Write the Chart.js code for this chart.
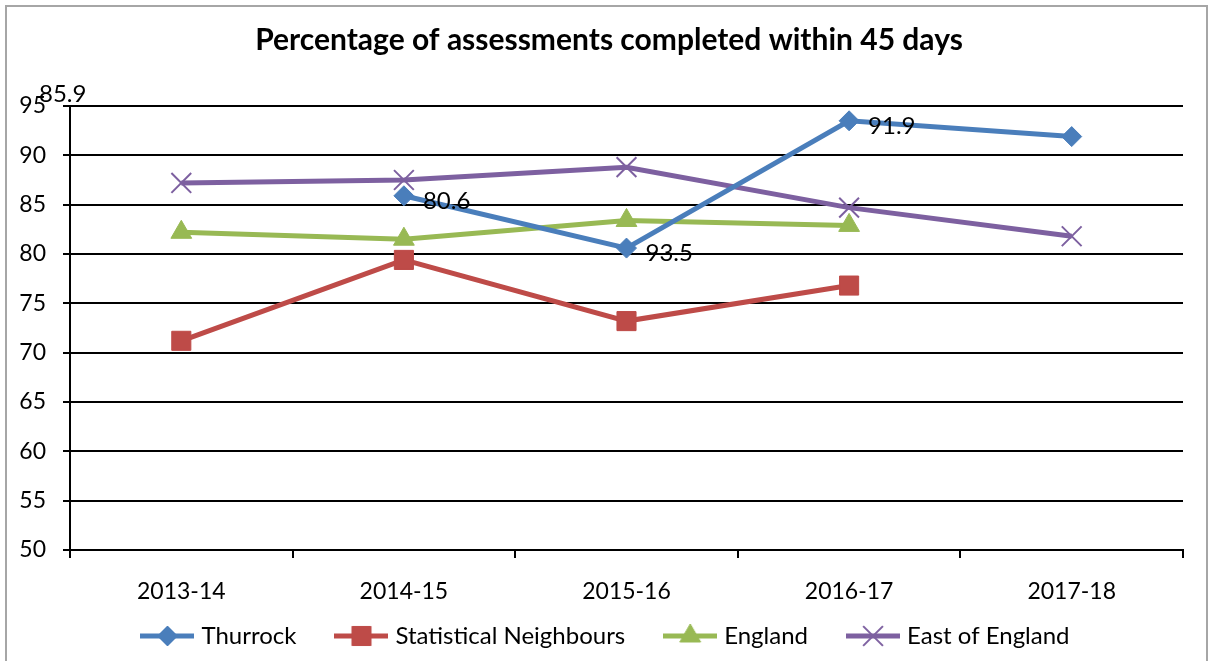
<!DOCTYPE html>
<html>
<head>
<meta charset="utf-8">
<script src="https://cdn.jsdelivr.net/npm/chart.js@4/dist/chart.umd.min.js"></script>
<style>
  html,body{margin:0;padding:0;background:#fff;overflow:hidden}
  #frame{position:absolute;left:5px;top:5px;width:1203px;height:700px;border:2px solid #a6a6a6;box-sizing:border-box}
  #wrap{position:absolute;left:0;top:0;width:1214px;height:661px}
</style>
</head>
<body>
<div id="frame"></div>
<div id="wrap"><canvas id="chart" width="1214" height="661"></canvas></div>
<script>
// data
const years=['2013-14','2014-15','2015-16','2016-17','2017-18'];
const thurrock=[null,85.9,80.6,93.5,91.9];
const statNeighbours=[71.2,79.4,73.2,76.8,null];
const england=[82.2,81.5,83.4,82.9,null];
const eastOfEngland=[87.2,87.5,88.8,84.7,81.8];
// labels as they appear in the original (shifted by one point)
const thurrockLabels=['85.9','80.6','93.5','91.9',null];

const FONT='Lato, Calibri, "Open Sans", sans-serif';

function legendIcon(color,style,radius,pw){
  const c=document.createElement('canvas');
  c.width=54;c.height=30;
  const ctx=c.getContext('2d');
  ctx.strokeStyle=color;ctx.fillStyle=color;ctx.lineWidth=5;
  ctx.beginPath();ctx.moveTo(0,15);ctx.lineTo(54,15);ctx.stroke();
  ctx.lineWidth=pw;
  Chart.helpers.drawPoint(ctx,{pointStyle:style,radius:radius,rotation:0,borderWidth:pw},27,15);
  return c;
}

const series=[
  {label:'Thurrock',data:thurrock,color:'#4a7ebb',style:'rectRot',r:10,pw:1},
  {label:'Statistical Neighbours',data:statNeighbours,color:'#be4b48',style:'rect',r:13.5,pw:1},
  {label:'England',data:england,color:'#98b954',style:'triangle',r:12,pw:1},
  {label:'East of England',data:eastOfEngland,color:'#7d60a0',style:'crossRot',r:14,pw:2},
];

const labelPlugin={
  id:'thurrockLabels',
  afterLayout(chart){
    // nudge legend and title to where Excel put them
    const lg=chart.legend, tt=chart.titleBlock;
    lg.top-=25;lg.bottom-=25;lg.left+=16;lg.right+=16;
    tt.left+=17.5;tt.right+=17.5;
  },
  afterDatasetsDraw(chart){
    const ctx=chart.ctx, meta=chart.getDatasetMeta(0), area=chart.chartArea;
    ctx.save();
    ctx.font='24px '+FONT;ctx.fillStyle='#000';ctx.textBaseline='middle';ctx.textAlign='left';
    thurrockLabels.forEach((t,i)=>{
      if(!t)return;
      const p=meta.data[i];
      if(thurrock[i]==null){ctx.fillText(t,area.left-31,area.top-12);return;}
      ctx.fillText(t,p.x+19,p.y+5);
    });
    ctx.restore();
  }
};

new Chart(document.getElementById('chart').getContext('2d'),{
  type:'line',
  data:{labels:years,datasets:series.map(s=>({
    label:s.label,data:s.data,borderColor:s.color,backgroundColor:s.color,
    borderWidth:5,pointStyle:s.style,pointRadius:s.r,pointHoverRadius:s.r,
    pointBorderWidth:s.pw,pointBackgroundColor:s.color,pointBorderColor:s.color,
    tension:0,spanGaps:false,
    icon:legendIcon(s.color,s.style,s.r,s.pw)
  }))},
  options:{
    responsive:false,animation:false,
    layout:{padding:{left:0,right:31,top:0,bottom:-22}},
    plugins:{
      title:{display:true,text:'Percentage of assessments completed within 45 days',color:'#000',
        font:{family:FONT,size:30,weight:'bold'},padding:{top:22,bottom:48}},
      legend:{position:'bottom',
        labels:{usePointStyle:true,pointStyleWidth:44,padding:43,color:'#000',font:{family:FONT,size:24},
          generateLabels(chart){
            return chart.data.datasets.map((d,i)=>({text:d.label,pointStyle:d.icon,datasetIndex:i,
              fillStyle:d.borderColor,strokeStyle:d.borderColor,lineWidth:0,hidden:false,fontColor:'#000'}));
          }}},
      tooltip:{enabled:false}
    },
    scales:{
      x:{offset:true,
        grid:{offset:true,drawOnChartArea:false,color:'#000',lineWidth:2,tickLength:8},
        border:{color:'#000',width:2},
        ticks:{color:'#000',font:{family:FONT,size:23},padding:20,maxRotation:0},
        afterFit(s){s.height=56;}},
      y:{min:50,max:95,
        grid:{color:'#000',lineWidth:2,tickLength:7},
        border:{color:'#000',width:2},
        ticks:{stepSize:5,color:'#000',font:{family:FONT,size:23},padding:17},
        afterFit(s){s.width=70;}}
    }
  },
  plugins:[labelPlugin]
});
</script>
</body>
</html>
